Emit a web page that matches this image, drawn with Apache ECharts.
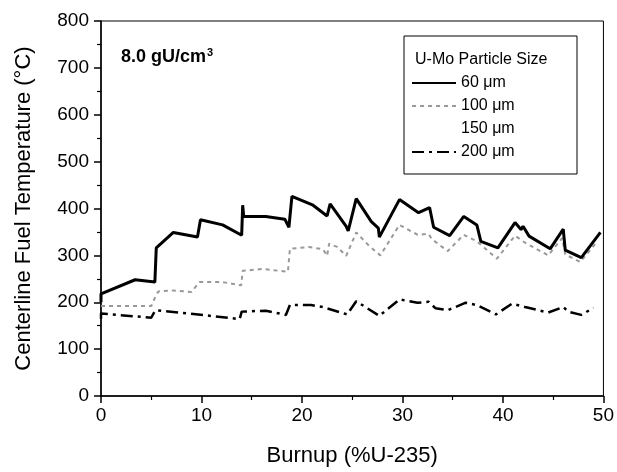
<!DOCTYPE html>
<html>
<head>
<meta charset="utf-8">
<script src="https://cdn.jsdelivr.net/npm/echarts@6/dist/echarts.min.js"></script>
<style>
html,body{margin:0;padding:0;background:#fff;}
#chart{width:617px;height:472px;}
</style>
</head>
<body>
<div id="chart"></div>
<script>
// Data
var seriesNames = ['60 \u03bcm', '100 \u03bcm', '150 \u03bcm', '200 \u03bcm'];
var xTicks = [0, 10, 20, 30, 40, 50];
var yTicks = [0, 100, 200, 300, 400, 500, 600, 700, 800];

var x60 = [0, 0, 3.4, 5.36, 5.5, 7.2, 9.6, 9.9, 12.1, 14.0, 14.1, 14.2, 16.4, 18.3, 18.7, 19.0, 21.1, 22.5, 22.8, 24.4, 24.6, 25.4, 26.9, 27.6, 27.7, 29.7, 31.6, 32.7, 33.1, 34.7, 36.1, 37.4, 37.8, 39.5, 41.2, 41.8, 42.0, 42.6, 44.7, 46.0, 46.2, 47.8, 49.7];
var y60 = [200, 218, 248, 243, 316, 349, 339, 376, 365, 343, 407, 383, 383, 377, 360, 426, 407, 384, 410, 362, 352, 421, 372, 358, 339, 419, 391, 402, 360, 342, 383, 365, 330, 316, 370, 355, 362, 341, 314, 356, 311, 295, 349];

var x100 = [0, 5.0, 5.4, 5.7, 7.2, 9.0, 9.8, 12.1, 13.95, 14.1, 16.1, 18.6, 18.8, 20.7, 22.1, 22.5, 22.7, 23.5, 24.4, 25.4, 26.7, 27.8, 29.7, 31.5, 32.6, 32.9, 34.5, 36.1, 37.4, 39.4, 41.2, 42.2, 44.5, 45.9, 46.2, 47.7, 49.4];
var y100 = [192, 192, 211, 223, 225, 222, 243, 243, 236, 267, 271, 265, 314, 318, 313, 299, 325, 318, 299, 349, 320, 300, 365, 344, 346, 335, 309, 344, 330, 293, 342, 327, 300, 337, 302, 286, 330];

var x150 = [];
var y150 = [];

var x200 = [0, 0, 5.0, 5.4, 8.8, 13.8, 14.0, 16.4, 18.4, 18.8, 20.9, 22.05, 24.5, 25.4, 26.0, 27.7, 29.7, 31.5, 32.6, 33.3, 34.5, 36.3, 37.4, 39.3, 40.9, 42.2, 44.5, 46.0, 46.5, 47.8, 49.0];
var y200 = [165, 176, 167, 183, 176, 164, 180, 182, 173, 194, 194, 190, 174, 202, 194, 171, 206, 199, 201, 187, 183, 199, 194, 174, 197, 190, 178, 190, 180, 173, 188];

function zip(xs, ys) { return xs.map(function (x, i) { return [x, ys[i]]; }); }

var FONT = 'Liberation Sans, Arial, Helvetica, sans-serif';
var chart = echarts.init(document.getElementById('chart'), null, {renderer: 'canvas'});

var option = {
  animation: false,
  backgroundColor: '#ffffff',
  textStyle: {fontFamily: FONT, color: '#000'},
  title: {
    text: '{a|8.0 gU/cm}{s|3}',
    left: 116,
    top: 42,
    textStyle: {
      rich: {
        a: {fontFamily: FONT, fontSize: 18, fontWeight: 'bold', color: '#000'},
        s: {fontFamily: FONT, fontSize: 11, fontWeight: 'bold', color: '#000', verticalAlign: 'top', padding: [0, 0, 10, 1]}
      }
    }
  },
  grid: {
    left: 101, right: 12, top: 21, bottom: 70,
    show: true, borderColor: '#000', borderWidth: 1, backgroundColor: 'transparent'
  },
  graphic: [
    {
      type: 'rect', z: 1,
      shape: {x: 404, y: 36, width: 173, height: 138},
      style: {fill: '#fff', stroke: '#000', lineWidth: 1}
    },
    {
      type: 'text', z: 2,
      x: 415, y: 60,
      style: {text: 'U-Mo Particle Size', font: '16px ' + FONT, fill: '#000', verticalAlign: 'middle', textAlign: 'left'}
    }
  ],
  legend: {
    orient: 'vertical',
    left: 411,
    top: 75,
    itemWidth: 44,
    itemHeight: 14,
    itemGap: 7,
    padding: 0,
    z: 5,
    itemStyle: {opacity: 0},
    textStyle: {fontFamily: FONT, fontSize: 16, color: '#000', padding: [0, 0, 0, 0]},
    data: seriesNames
  },
  xAxis: {
    type: 'value',
    min: xTicks[0], max: xTicks[xTicks.length - 1], interval: 10,
    name: 'Burnup (%U-235)',
    nameLocation: 'middle',
    nameGap: 49,
    nameTextStyle: {fontFamily: FONT, fontSize: 22, color: '#000'},
    axisLine: {show: true, onZero: false, lineStyle: {color: '#000', width: 1.5}},
    axisTick: {show: true, inside: false, length: 7, lineStyle: {color: '#000', width: 1.5}},
    minorTick: {show: true, splitNumber: 2, length: 4, lineStyle: {color: '#000', width: 1.2}},
    splitLine: {show: false},
    minorSplitLine: {show: false},
    axisLabel: {fontFamily: FONT, fontSize: 19, color: '#000', margin: 10}
  },
  yAxis: {
    type: 'value',
    min: yTicks[0], max: yTicks[yTicks.length - 1], interval: 100,
    name: 'Centerline Fuel Temperature (\u00b0C)',
    nameLocation: 'middle',
    nameGap: 66,
    nameTextStyle: {fontFamily: FONT, fontSize: 22, color: '#000'},
    axisLine: {show: true, onZero: false, lineStyle: {color: '#000', width: 1.5}},
    axisTick: {show: true, inside: false, length: 7, lineStyle: {color: '#000', width: 1.5}},
    minorTick: {show: true, splitNumber: 2, length: 4, lineStyle: {color: '#000', width: 1.2}},
    splitLine: {show: false},
    minorSplitLine: {show: false},
    axisLabel: {fontFamily: FONT, fontSize: 19, color: '#000', margin: 12}
  },
  series: [
    {
      name: seriesNames[0], type: 'line', symbol: 'none', showSymbol: false,
      data: zip(x60, y60), z: 4,
      lineStyle: {color: '#000', width: 3, type: 'solid'},
      itemStyle: {color: '#000'}
    },
    {
      name: seriesNames[1], type: 'line', symbol: 'none', showSymbol: false,
      data: zip(x100, y100), z: 3,
      lineStyle: {color: '#999999', width: 2, type: [4, 4]},
      itemStyle: {color: '#999999'}
    },
    {
      name: seriesNames[2], type: 'line', symbol: 'none', showSymbol: false,
      data: zip(x150, y150), z: 2,
      lineStyle: {color: 'rgba(255,255,255,0)', width: 2},
      itemStyle: {color: 'rgba(255,255,255,0)'}
    },
    {
      name: seriesNames[3], type: 'line', symbol: 'none', showSymbol: false,
      data: zip(x200, y200), z: 3,
      lineStyle: {color: '#000', width: 2.5, type: [12, 5, 3, 5]},
      itemStyle: {color: '#000'}
    }
  ]
};
chart.setOption(option);
</script>
</body>
</html>
